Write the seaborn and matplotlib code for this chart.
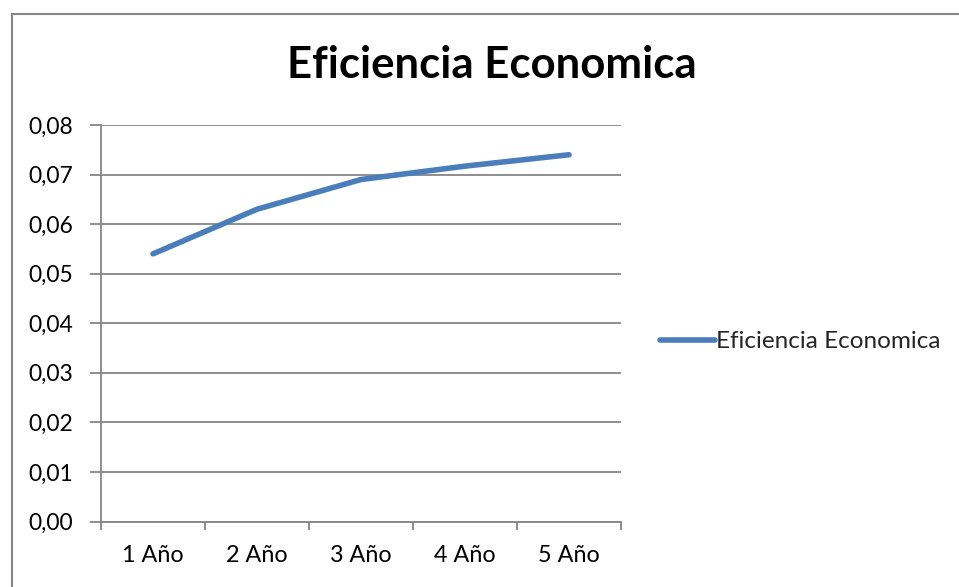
import matplotlib
matplotlib.use("Agg")
import matplotlib.pyplot as plt
import seaborn as sns
import pandas as pd
from matplotlib.patches import Rectangle
from matplotlib.ticker import FixedLocator, FuncFormatter

# data
years = ["1 Año", "2 Año", "3 Año", "4 Año", "5 Año"]
eficiencia = [0.054, 0.063, 0.069, 0.0717, 0.074]
serie = "Eficiencia Economica"

df = pd.DataFrame({"year": years, "value": eficiencia, "serie": serie})

sns.set_theme(style="white")
plt.rcParams["font.family"] = ["Lato", "DejaVu Sans"]

fig = plt.figure(figsize=(9.59, 5.87), dpi=100)
ax = fig.add_axes([101 / 959, 1 - 521.5 / 587, 520 / 959, 396.5 / 587])

grid_c = "#868686"
line_c = "#4A7EBB"

sns.lineplot(data=df, x="year", y="value", hue="serie", palette=[line_c],
             linewidth=4.0, ax=ax, sort=False)
for ln in ax.lines:
    ln.set_solid_capstyle("round")
    ln.set_solid_joinstyle("round")

ax.set_xlim(-0.5, 4.5)
ax.set_ylim(0, 0.08)
ax.set_yticks([i / 100 for i in range(9)])
ax.yaxis.set_major_formatter(FuncFormatter(lambda v, p: f"{v:.2f}".replace(".", ",")))
ax.yaxis.grid(True, color=grid_c, linewidth=1.3)
ax.set_axisbelow(True)

# category boundary ticks on x
ax.set_xticks(range(len(years)))
ax.set_xticklabels(years)
ax.xaxis.set_minor_locator(FixedLocator([i - 0.5 for i in range(len(years) + 1)]))
ax.tick_params(axis="x", which="major", length=0, pad=17, labelsize=16.8, colors="black")
ax.tick_params(axis="x", which="minor", length=6, width=1.3, color=grid_c, direction="out", bottom=True)
ax.tick_params(axis="y", which="major", length=8, width=1.3, color=grid_c, direction="out",
               left=True, pad=12, labelsize=16.5, labelcolor="black")

for s in ["top", "right"]:
    ax.spines[s].set_visible(False)
for s in ["left", "bottom"]:
    ax.spines[s].set_color(grid_c)
    ax.spines[s].set_linewidth(1.3)

ax.set_xlabel("")
ax.set_ylabel("")

leg = ax.legend(loc="center left", bbox_to_anchor=(1.075, 0.453), frameon=False,
                borderaxespad=0, borderpad=0, handlelength=2.25, handletextpad=0.05,
                fontsize=17.5, title=None)
for h in leg.get_lines():
    h.set_linewidth(4.0)
    h.set_solid_capstyle("round")

fig.text(492 / 959, 1 - 65 / 587, "Eficiencia Economica", ha="center", va="center",
         fontsize=31.5, fontweight="bold", color="black")

# chart border
fig.patches.append(Rectangle((12 / 959, -0.1), 1.1, 1 - 13.5 / 587 + 0.1,
                             transform=fig.transFigure, fill=False,
                             edgecolor=grid_c, linewidth=1.5))

fig.savefig("out.png", dpi=100)
